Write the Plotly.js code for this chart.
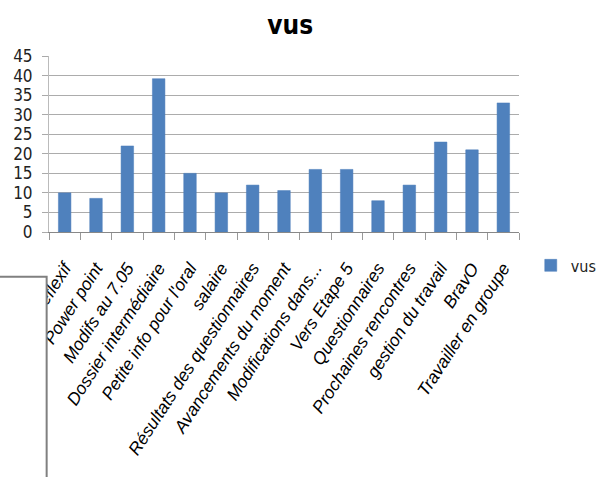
<!DOCTYPE html>
<html>
<head>
<meta charset="utf-8">
<script src="https://cdn.plot.ly/plotly-3.0.1.min.js"></script>
<style>html,body{margin:0;padding:0;background:#fff;}#chart{width:596px;height:477px;}</style>
</head>
<body>
<div id="chart"></div>
<script>
const categories = ["Réflexif", "Power point", "Modifs au 7.05", "Dossier intermédiaire", "Petite info pour l'oral", "salaire", "Résultats des questionnaires", "Avancements du moment", "Modifications dans...", "Vers Etape 5", "Questionnaires", "Prochaines rencontres", "gestion du travail", "BravO", "Travailler en groupe"];
const vusValues = [10, 8.6, 22, 39.2, 15, 10, 12, 10.6, 16, 16, 8, 12, 23, 21, 33];
const seriesName = "vus";
const yTicks = [0, 5, 10, 15, 20, 25, 30, 35, 40, 45];

const narrow = "Liberation Sans Narrow, DejaVu Sans Condensed, Arial Narrow, sans-serif";

const trace = {
  type: "bar",
  x: categories,
  y: vusValues,
  name: seriesName,
  marker: {color: "#4F81BD", line: {color: "#4a7dba", width: 0.5}},
  hoverinfo: "x+y"
};

const layout = {
  width: 596, height: 477,
  paper_bgcolor: "#ffffff", plot_bgcolor: "#ffffff",
  margin: {l: 49, r: 77, t: 56, b: 245, autoexpand: false},
  bargap: 0.6,
  showlegend: true,
  title: {
    text: "<b>vus</b>",
    font: {family: narrow, size: 26, color: "#000"},
    x: 0.487, xref: "container", xanchor: "center",
    y: 0.948, yref: "container", yanchor: "middle"
  },
  xaxis: {
    type: "category",
    tickvals: categories,
    ticktext: categories.map(c => "<i>" + c + "</i>"),
    tickson: "boundaries",
    ticks: "outside", ticklen: 7, tickcolor: "#999", tickwidth: 1,
    showline: true, linecolor: "#888", linewidth: 1,
    showgrid: false, zeroline: false,
    tickangle: -57,
    ticklabelstandoff: 18,
    tickfont: {family: "Liberation Sans, Arial, sans-serif", size: 17.5, color: "#000"}
  },
  yaxis: {
    range: [0, 45],
    tickvals: yTicks,
    ticktext: yTicks.map(String),
    ticks: "outside", ticklen: 6, tickcolor: "#aaa",
    showline: true, linecolor: "#bbb", linewidth: 1,
    showgrid: true, gridcolor: "#acacac", gridwidth: 1,
    zeroline: false,
    ticklabelstandoff: 6,
    tickfont: {family: narrow, size: 17, color: "#222"}
  },
  legend: {
    x: 1.025, xanchor: "left",
    y: -0.19, yanchor: "middle",
    font: {family: narrow, size: 16, color: "#222"},
    bgcolor: "rgba(0,0,0,0)"
  },
  shapes: [{
    type: "rect", xref: "paper", yref: "paper", layer: "above",
    x0: -0.2, x1: -0.005, y0: -1.6, y1: -0.254,
    fillcolor: "#ffffff",
    line: {color: "#808080", width: 2}
  }]
};

Plotly.newPlot("chart", [trace], layout, {displayModeBar: false, staticPlot: true});
</script>
</body>
</html>
